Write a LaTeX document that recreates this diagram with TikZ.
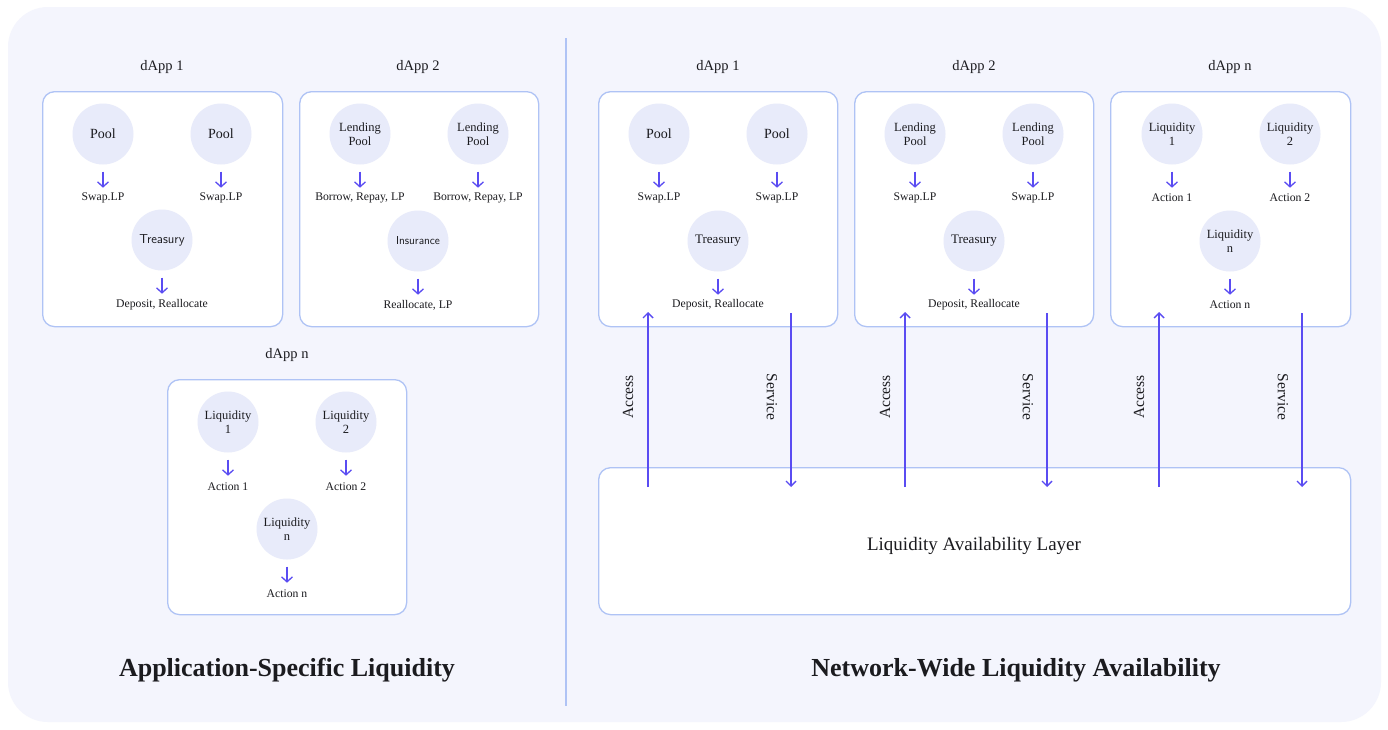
\documentclass[tikz,border=0pt]{standalone}
\usepackage{fontspec}
\setmainfont{Liberation Serif}
\usetikzlibrary{arrows.meta}
\definecolor{panel}{HTML}{F4F5FD}
\definecolor{circ}{HTML}{E8EBFA}
\definecolor{edgec}{HTML}{AFC3F5}
\definecolor{arrc}{HTML}{5A4CF2}
\definecolor{txt}{HTML}{1B1B1F}
\newcommand\mkcell[6]{%
  \node[blob] (#1) at (#2,#3) {#4};
  \node[lbl] (#1l) at (#2,#5) {#6};
  \draw[sm] ([yshift=-7pt]#1.south) -- ++(0,16);
}
\begin{document}
\begin{tikzpicture}[x=1pt,y=-1pt,
  every node/.style={text=txt},
  dbox/.style={draw=edgec, line width=1.3pt, fill=white, rounded corners=12pt, anchor=north west, inner sep=0pt},
  blob/.style={circle, fill=circ, minimum size=61pt, inner sep=0pt, align=center, font=\fontsize{12.5}{13.5}\selectfont},
  lbl/.style={font=\fontsize{11.7}{12}\selectfont, inner sep=1pt},
  head/.style={font=\fontsize{14.5}{16}\selectfont},
  ttl/.style={font=\fontsize{26}{28}\selectfont\bfseries},
  sm/.style={draw=arrc, line width=1.3pt, -{Straight Barb[length=5pt,width=11pt,line width=1.3pt]}},
  big/.style={draw=arrc, line width=1.4pt, -{Straight Barb[length=5pt,width=10pt,line width=1.4pt]}},
  vlab/.style={font=\fontsize{15.5}{17}\selectfont},
]
\useasboundingbox (0,0) rectangle (1388,729);
\fill[white] (0,0) rectangle (1388,729);
\fill[panel, rounded corners=40pt] (8,7) rectangle (1381,722);
\draw[edgec, line width=1.3pt] (566,38) -- (566,706);

% ---------- left side ----------
\node[head] (hl1) at (162,67) {dApp 1};
\node[head] (hl2) at (418,67) {dApp 2};
\node[head] (hl3) at (287,355) {dApp n};
\node[dbox, minimum width=240pt, minimum height=235pt] (bl1) at (42,91) {};
\node[dbox, minimum width=239pt, minimum height=235pt] (bl2) at (299,91) {};
\node[dbox, minimum width=239pt, minimum height=235pt] (bl3) at (167,379) {};

\mkcell{a1}{103}{134}{\fontsize{14}{15}\selectfont Pool}{198}{Swap.LP}
\mkcell{a2}{221}{134}{\fontsize{14}{15}\selectfont Pool}{198}{Swap.LP}
\mkcell{a3}{162}{240}{\fontsize{13}{14}\selectfont\sffamily Treasury}{305}{Deposit, Reallocate}

\mkcell{b1}{360}{134}{Lending\\Pool}{198}{Borrow, Repay, LP}
\mkcell{b2}{478}{134}{Lending\\Pool}{198}{Borrow, Repay, LP}
\mkcell{b3}{418}{241}{\fontsize{11.5}{14}\selectfont\sffamily Insurance}{305}{Reallocate, LP}

\mkcell{c1}{228}{422}{Liquidity\\1}{487}{Action 1}
\mkcell{c2}{346}{422}{Liquidity\\2}{487}{Action 2}
\mkcell{c3}{287}{529}{Liquidity\\n}{594}{Action n}

\node[ttl] (tl) at (287,670) {Application-Specific Liquidity};

% ---------- right side ----------
\node[head] (hr1) at (718,67) {dApp 1};
\node[head] (hr2) at (974,67) {dApp 2};
\node[head] (hr3) at (1230,67) {dApp n};
\node[dbox, minimum width=239pt, minimum height=235pt] (br1) at (598,91) {};
\node[dbox, minimum width=239pt, minimum height=235pt] (br2) at (854,91) {};
\node[dbox, minimum width=240pt, minimum height=235pt] (br3) at (1110,91) {};
\node[dbox, minimum width=752pt, minimum height=147pt] (lal) at (598,467) {};
\node[font=\fontsize{19}{21}\selectfont] (lalt) at (974,546) {Liquidity Availability Layer};

\mkcell{d1}{659}{134}{\fontsize{14}{15}\selectfont Pool}{198}{Swap.LP}
\mkcell{d2}{777}{134}{\fontsize{14}{15}\selectfont Pool}{198}{Swap.LP}
\mkcell{d3}{718}{241}{\fontsize{13}{14}\selectfont Treasury}{305}{Deposit, Reallocate}

\mkcell{e1}{915}{134}{Lending\\Pool}{198}{Swap.LP}
\mkcell{e2}{1033}{134}{Lending\\Pool}{198}{Swap.LP}
\mkcell{e3}{974}{241}{\fontsize{13}{14}\selectfont Treasury}{305}{Deposit, Reallocate}

\mkcell{f1}{1172}{134}{Liquidity\\1}{198}{Action 1}
\mkcell{f2}{1290}{134}{Liquidity\\2}{198}{Action 2}
\mkcell{f3}{1230}{241}{Liquidity\\n}{305}{Action n}

% access / service connectors
\foreach \i/\xa/\xs in {1/648/791, 2/905/1047, 3/1159/1302}{
  \coordinate (acc\i b) at (\xa,487);
  \coordinate (acc\i t) at (\xa,312);
  \coordinate (srv\i t) at (\xs,313);
  \coordinate (srv\i b) at (\xs,487);
  \draw[big] (acc\i b) -- (acc\i t);
  \draw[big] (srv\i t) -- (srv\i b);
  \node[vlab, rotate=90] (accl\i) at (\xa-20,397) {Access};
  \node[vlab, rotate=-90] (srvl\i) at (\xs-19,397) {Service};
}

\node[ttl] (tr) at (1016,670) {Network-Wide Liquidity Availability};
\end{tikzpicture}
\end{document}
